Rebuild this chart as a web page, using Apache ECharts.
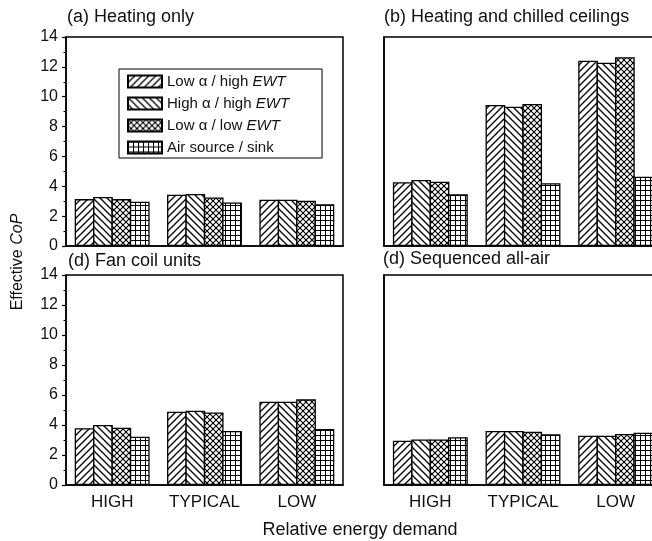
<!DOCTYPE html>
<html>
<head>
<meta charset="utf-8">
<script src="https://cdn.jsdelivr.net/npm/echarts@6/dist/echarts.min.js"></script>
<style>html,body{margin:0;padding:0;background:#fff}#c{width:652px;height:541px}</style>
</head>
<body>
<div id="c"></div>
<script>
var categories = ['HIGH', 'TYPICAL', 'LOW'];
var seriesNames = ['Low α / high EWT', 'High α / high EWT', 'Low α / low EWT', 'Air source / sink'];
var panelTitles = ['(a) Heating only', '(b) Heating and chilled ceilings', '(d) Fan coil units', '(d) Sequenced all-air'];
var yTicks = [0, 2, 4, 6, 8, 10, 12, 14];

// values per panel, per series, for HIGH / TYPICAL / LOW
var heatingOnly = [
  [3.14, 3.43, 3.10],
  [3.28, 3.48, 3.10],
  [3.14, 3.25, 3.03],
  [2.96, 2.91, 2.80]
];
var chilledCeilings = [
  [4.27, 9.44, 12.41],
  [4.42, 9.33, 12.28],
  [4.31, 9.51, 12.64],
  [3.46, 4.20, 4.64]
];
var fanCoil = [
  [3.78, 4.89, 5.55],
  [4.00, 4.95, 5.55],
  [3.82, 4.84, 5.71],
  [3.22, 3.60, 3.73]
];
var allAir = [
  [2.95, 3.60, 3.29],
  [3.04, 3.60, 3.29],
  [3.04, 3.55, 3.40],
  [3.18, 3.38, 3.49]
];
var panels = [heatingOnly, chilledCeilings, fanCoil, allAir];

function makePattern(kind) {
  var s = kind === 'grid' ? 5 : (kind === 'cross' ? 6 : 7);
  var c = document.createElement('canvas');
  c.width = s; c.height = s;
  var g = c.getContext('2d');
  g.fillStyle = '#fff';
  g.fillRect(0, 0, s, s);
  g.strokeStyle = '#000';
  g.lineWidth = 1.3;
  function fwd() {
    g.beginPath();
    g.moveTo(-1, s + 1); g.lineTo(s + 1, -1);
    g.moveTo(-1, 1); g.lineTo(1, -1);
    g.moveTo(s - 1, s + 1); g.lineTo(s + 1, s - 1);
    g.stroke();
  }
  function back() {
    g.beginPath();
    g.moveTo(-1, -1); g.lineTo(s + 1, s + 1);
    g.moveTo(s - 1, -1); g.lineTo(s + 1, 1);
    g.moveTo(-1, s - 1); g.lineTo(1, s + 1);
    g.stroke();
  }
  if (kind === 'fwd') fwd();
  else if (kind === 'back') back();
  else if (kind === 'cross') { g.lineWidth = 1.1; fwd(); back(); }
  else {
    g.lineWidth = 1;
    g.beginPath();
    g.moveTo(0.5, 0); g.lineTo(0.5, s);
    g.moveTo(0, 0.5); g.lineTo(s, 0.5);
    g.stroke();
  }
  return { image: c, repeat: 'repeat' };
}
var patterns = [makePattern('fwd'), makePattern('back'), makePattern('cross'), makePattern('grid')];

var FONT = 'Liberation Sans';
var grids = [
  { left: 66, top: 37, width: 277, height: 209 },
  { left: 384, top: 37, width: 278, height: 209 },
  { left: 66, top: 275, width: 277, height: 210 },
  { left: 384, top: 275, width: 278, height: 210 }
];
var titlePos = [[67, 8], [384, 8], [68, 252], [383, 250]];

var option = {
  animation: false,
  backgroundColor: '#fff',
  textStyle: { fontFamily: FONT },
  title: panelTitles.map(function (t, i) {
    return {
      text: t, left: titlePos[i][0], top: titlePos[i][1], padding: 0,
      textStyle: { fontFamily: FONT, fontSize: 18, fontWeight: 'normal', color: '#111' }
    };
  }),
  legend: {
    data: seriesNames,
    orient: 'vertical',
    left: 119, top: 69,
    padding: [5, 33, 3, 8],
    itemGap: 7,
    icon: 'rect',
    itemWidth: 34, itemHeight: 12,
    borderColor: '#000', borderWidth: 1,
    backgroundColor: '#fff',
    textStyle: {
      fontFamily: FONT, fontSize: 15, color: '#111',
      rich: { i: { fontFamily: FONT, fontSize: 15, fontStyle: 'italic', color: '#111' } }
    },
    formatter: function (name) { return name.replace(/EWT$/, '{i|EWT}'); }
  },
  grid: grids.map(function (g) {
    return Object.assign({
      show: true, borderColor: '#000', borderWidth: 1.5, backgroundColor: 'transparent',
      containLabel: false, outerBoundsMode: 'none'
    }, g);
  }),
  xAxis: grids.map(function (g, i) {
    return {
      type: 'category', gridIndex: i, data: categories,
      axisLine: { lineStyle: { color: '#000', width: 1.5 } },
      axisTick: { show: true, inside: true, alignWithLabel: true, length: 5, lineStyle: { color: '#000', width: 1.2 } },
      axisLabel: { show: i >= 2, interval: 0, margin: 9, fontFamily: FONT, fontSize: 17, color: '#111' }
    };
  }),
  yAxis: grids.map(function (g, i) {
    var left = (i % 2 === 0);
    return {
      type: 'value', gridIndex: i, min: yTicks[0], max: yTicks[yTicks.length - 1], interval: 2,
      splitLine: { show: false },
      axisLine: { show: true, lineStyle: { color: '#000', width: 1.5 } },
      axisTick: { show: left, length: 4, lineStyle: { color: '#000', width: 1.2 } },
      minorTick: { show: left, splitNumber: 2, length: 2.5, lineStyle: { color: '#000', width: 1 } },
      axisLabel: { show: left, margin: 8, fontFamily: FONT, fontSize: 16, color: '#111' }
    };
  }),
  graphic: [
    {
      type: 'text', x: 18, y: 262, rotation: Math.PI / 2,
      style: {
        text: 'Effective {i|CoP}', font: '16px "Liberation Sans"', fill: '#111',
        align: 'center', verticalAlign: 'middle',
        rich: { i: { fontStyle: 'italic', fontSize: 16, fontFamily: FONT, fill: '#111' } }
      }
    },
    {
      type: 'text', x: 360, y: 530,
      style: {
        text: 'Relative energy demand', font: '18px "Liberation Sans"', fill: '#111',
        align: 'center', verticalAlign: 'middle'
      }
    }
  ],
  series: []
};

panels.forEach(function (panel, p) {
  panel.forEach(function (vals, s) {
    option.series.push({
      type: 'bar', name: seriesNames[s], xAxisIndex: p, yAxisIndex: p,
      data: vals, barGap: '-6.6%', barWidth: 19.7,
      itemStyle: { color: patterns[s], borderColor: '#000', borderWidth: 1.3 },
      emphasis: { disabled: true }
    });
  });
});

var chart = echarts.init(document.getElementById('c'), null, { renderer: 'canvas' });
chart.setOption(option);
</script>
</body>
</html>
